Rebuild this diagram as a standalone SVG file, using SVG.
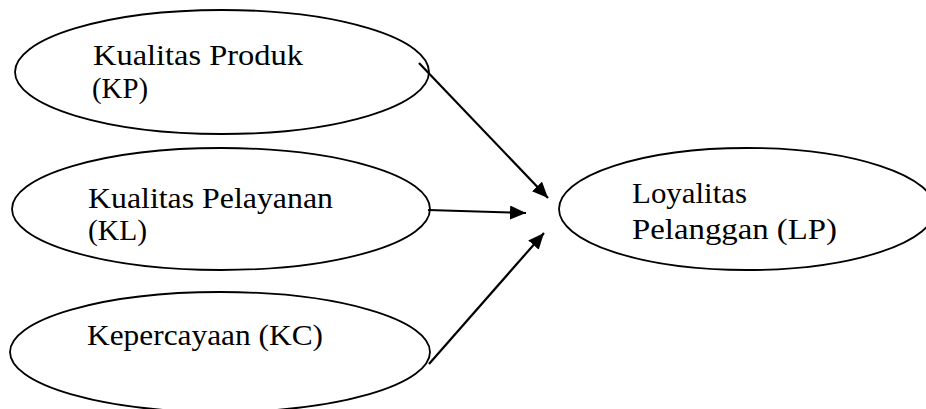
<svg xmlns="http://www.w3.org/2000/svg" width="926" height="409" viewBox="0 0 926 409">
<style>
.node ellipse{fill:#fff;stroke:#000;stroke-width:1.8}
.lbl{font-family:"Liberation Serif","DejaVu Serif",serif;font-size:28.5px;fill:#000}
.conn line{stroke:#000;stroke-width:2.2}
</style>
<defs>
<marker id="ah" markerUnits="userSpaceOnUse" markerWidth="18" markerHeight="14" refX="16" refY="7" orient="auto">
<path d="M0,0 L16,7 L0,14 Z" fill="#000"/>
</marker>
</defs>
<rect width="926" height="409" fill="#fff"/>
<g id="kp" class="node">
<ellipse cx="222" cy="72" rx="207" ry="62"/>
<text class="lbl" x="93" y="65" textLength="210" lengthAdjust="spacingAndGlyphs">Kualitas Produk</text>
<text class="lbl" x="92" y="98" textLength="56" lengthAdjust="spacingAndGlyphs">(KP)</text>
</g>
<g id="kl" class="node">
<ellipse cx="221" cy="209" rx="209" ry="61"/>
<text class="lbl" x="88" y="208" textLength="245" lengthAdjust="spacingAndGlyphs">Kualitas Pelayanan</text>
<text class="lbl" x="88" y="240" textLength="59" lengthAdjust="spacingAndGlyphs">(KL)</text>
</g>
<g id="kc" class="node">
<ellipse cx="220" cy="352" rx="210" ry="60"/>
<text class="lbl" x="87" y="345" textLength="236" lengthAdjust="spacingAndGlyphs">Kepercayaan (KC)</text>
</g>
<g id="lp" class="node">
<ellipse cx="747" cy="209" rx="188" ry="61"/>
<text class="lbl" x="632" y="203" textLength="115" lengthAdjust="spacingAndGlyphs">Loyalitas</text>
<text class="lbl" x="632" y="239" textLength="205" lengthAdjust="spacingAndGlyphs">Pelanggan (LP)</text>
</g>
<g id="connectors" class="conn">
<line x1="419" y1="63" x2="548" y2="198" marker-end="url(#ah)"/>
<line x1="428" y1="210" x2="526" y2="213" marker-end="url(#ah)"/>
<line x1="429" y1="364" x2="544" y2="233" marker-end="url(#ah)"/>
</g>
</svg>
